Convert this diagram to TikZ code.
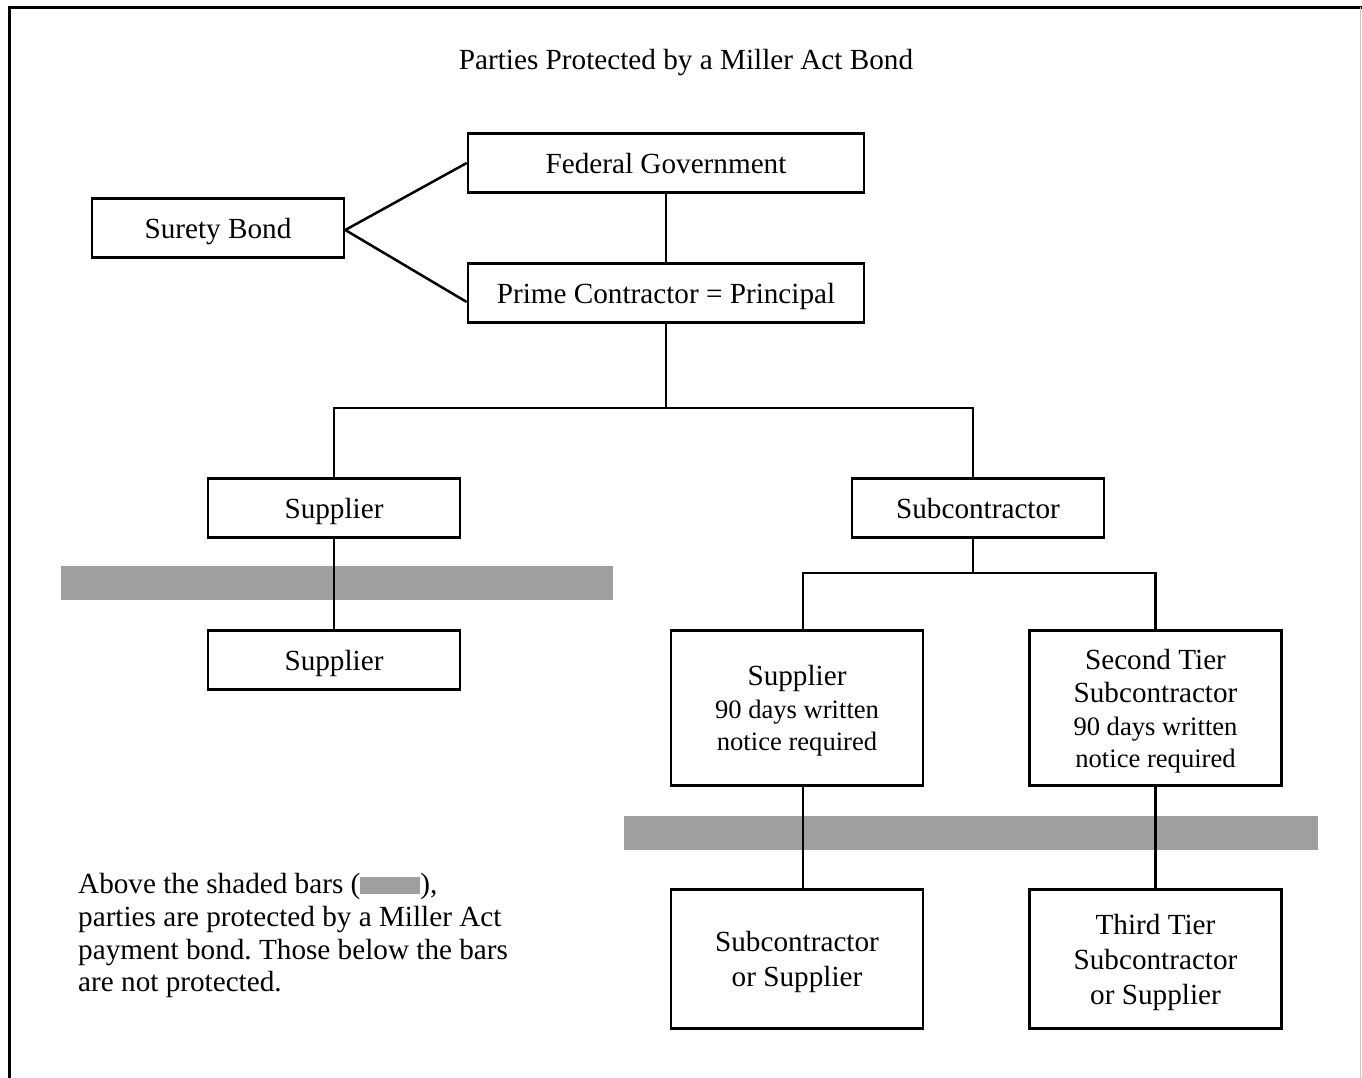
\documentclass[tikz,border=0pt]{standalone}
\usepackage{fontspec}
\setmainfont{Liberation Serif}
\usepackage{xcolor}
\usetikzlibrary{positioning}
\definecolor{bargray}{RGB}{158,159,161}
\definecolor{framegray}{RGB}{200,200,200}
\newcommand{\bigsz}{\fontsize{29.2}{35}\selectfont}
\newcommand{\smallsz}{\fontsize{26.6}{32}\selectfont}
\frenchspacing

\begin{document}
\begin{tikzpicture}[x=1pt,y=-1pt,
  partybox/.style={draw,line width=2.6pt,inner sep=0pt,align=center,font=\bigsz,
    text depth=0pt,minimum width=252pt,minimum height=59pt},
  link/.style={line width=2.5pt}]
\useasboundingbox (0,0) rectangle (1362,1078);

% frame
\draw[line width=3pt] (9.5,1078) -- (9.5,7.5) -- (1362,7.5);
\draw[framegray,line width=1pt] (1360.5,7.5) -- (1360.5,1078);

\node[font=\bigsz,text depth=0pt] (title) at (686,59) {Parties Protected by a Miller Act Bond};

%%%%%%%%%%   top of the tree
\node[partybox,minimum width=396pt] (fedgov) at (666,163) {Federal Government};
\node[partybox,minimum width=396pt] (prime) at (666,293) {Prime Contractor = Principal};
\node[partybox] (surety) at (218,228) {Surety Bond};

\draw[link] ([yshift=-2pt]surety.east) -- (fedgov.west);
\draw[link] ([yshift=-2pt]surety.east) -- ([yshift=-9pt]prime.west);
\draw[link] (fedgov) -- (prime);

%%%%%%%%%%   first tier
\node[partybox] (supplierA) at (334,508) {Supplier};
\node[partybox] (subcon) at (978,508) {Subcontractor};
\coordinate (jointop) at (666,408);
\draw[link] (prime.south) -- (jointop);
\draw[link] (supplierA.north) |- (jointop) -| ([xshift=-5pt]subcon.north);

%%%%%%%%%%   left bar
\fill[bargray] (61,566) rectangle (613,600);
\node[partybox] (supplierB) at (334,660) {Supplier};
\draw[link] (supplierA) -- (supplierB);

%%%%%%%%%%   second tier
\node[partybox,minimum height=155pt] (supplierC) at (797,708)
  {Supplier\\[-2pt]{\smallsz 90 days written}\\[-3pt]{\smallsz notice required}};
\node[partybox,minimum height=155pt] (tiertwo) at (1155.5,708)
  {Second Tier\\[-2pt]Subcontractor\\[-2pt]{\smallsz 90 days written}\\[-3pt]{\smallsz notice required}};
\coordinate (jointwo) at (973,573);
\draw[link] ([xshift=-5pt]subcon.south) -- (jointwo);
\draw[link] ([xshift=6pt]supplierC.north) |- (jointwo) -| (tiertwo.north);

%%%%%%%%%%   right bar
\fill[bargray] (624,816) rectangle (1318,850);
\node[partybox,minimum height=139pt] (subsupplier) at (797,959) {Subcontractor\\or Supplier};
\node[partybox,minimum height=139pt] (tierthree) at (1155.5,959) {Third Tier\\Subcontractor\\or Supplier};
\draw[link] ([xshift=6pt]supplierC.south) -- ([xshift=6pt]subsupplier.north);
\draw[link] (tiertwo) -- (tierthree);

% note
\node[anchor=north west,align=left,font=\fontsize{29.2}{32.8}\selectfont,inner sep=0pt] (note) at (78,873)
  {Above the shaded bars ({\color{bargray}\rule[-1pt]{60pt}{17pt}}),\\
   parties are protected by a Miller Act\\
   payment bond. Those below the bars\\
   are not protected.};
\end{tikzpicture}
\end{document}
